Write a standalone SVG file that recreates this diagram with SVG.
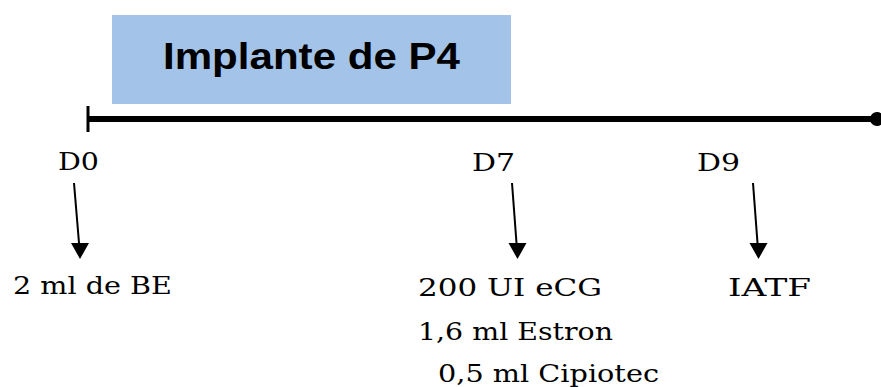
<svg xmlns="http://www.w3.org/2000/svg" width="881" height="387" viewBox="0 0 881 387">
<style>
.lbl{font-family:"DejaVu Serif","Liberation Serif",serif;font-size:24px;fill:#000}
.title{font-family:"Liberation Sans",Arial,sans-serif;font-weight:bold;font-size:37px;fill:#000}
.arr{stroke:#000;stroke-width:2;fill:none}
.head{fill:#000}
</style>
<rect width="881" height="387" fill="#fff"/>
<g id="implante">
<rect x="112" y="15" width="399" height="89" fill="#a3c4e8"/>
<text class="title" x="163" y="69" textLength="297" lengthAdjust="spacingAndGlyphs">Implante de P4</text>
</g>
<g id="timeline">
<line x1="88" y1="119" x2="876" y2="119" stroke="#000" stroke-width="6"/>
<line x1="88" y1="106" x2="88" y2="132" stroke="#000" stroke-width="3"/>
<circle cx="877" cy="119" r="7" fill="#000"/>
</g>
<g id="d0">
<text class="lbl" x="58" y="170" textLength="41" lengthAdjust="spacingAndGlyphs">D0</text>
<text class="lbl" x="13" y="294" textLength="159" lengthAdjust="spacingAndGlyphs">2 ml de BE</text>
</g>
<g id="d7">
<text class="lbl" x="472" y="171" textLength="43" lengthAdjust="spacingAndGlyphs">D7</text>
<text class="lbl" x="418" y="296" textLength="184" lengthAdjust="spacingAndGlyphs">200 UI eCG</text>
<text class="lbl" x="418" y="340" textLength="195" lengthAdjust="spacingAndGlyphs">1,6 ml Estron</text>
<text class="lbl" x="438" y="382" textLength="221" lengthAdjust="spacingAndGlyphs">0,5 ml Cipiotec</text>
</g>
<g id="d9">
<text class="lbl" x="697" y="171" textLength="43" lengthAdjust="spacingAndGlyphs">D9</text>
<text class="lbl" x="728" y="296" textLength="83" lengthAdjust="spacingAndGlyphs">IATF</text>
</g>
<g id="connectors">
<path d="M74,183 L79,243" class="arr"/>
<path class="head" d="M71,243 L89,243 L80,259 z"/>
<path d="M512,183 L516.5,243" class="arr"/>
<path class="head" d="M508.5,243 L526.5,243 L517.5,259 z"/>
<path d="M753,183 L757.5,243" class="arr"/>
<path class="head" d="M749.5,243 L767.5,243 L758.5,259 z"/>
</g>
</svg>
